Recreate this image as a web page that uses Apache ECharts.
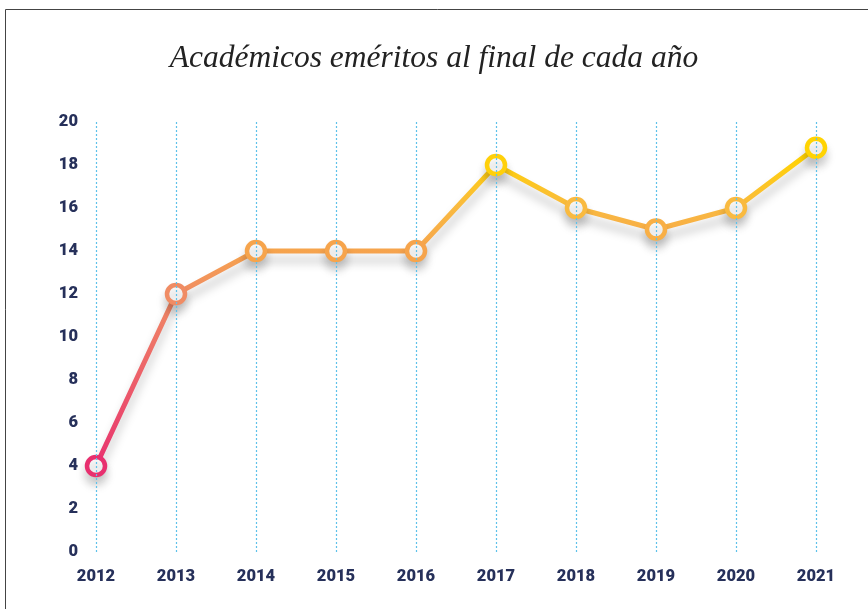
<!DOCTYPE html>
<html><head><meta charset="utf-8">
<script src="https://cdn.jsdelivr.net/npm/echarts@6/dist/echarts.min.js"></script>
<style>html,body{margin:0;padding:0;background:#fff}#c{width:868px;height:609px}</style>
</head><body><div id="c"></div>
<script>
const titleText = 'Académicos eméritos al final de cada año';
const years = ['2012','2013','2014','2015','2016','2017','2018','2019','2020','2021'];
const emeritos = [4,12,14,14,14,18,16,15,16,18.8];
const yMin = 0, yMax = 20, yStep = 2;

// colour ramp by value (style only)
const ramp = [[4,[232,48,111]],[12,[240,140,100]],[14,[246,164,76]],[16,[249,186,64]],[18,[255,208,10]],[19,[255,212,0]]];
function rampColor(v){
  for(let i=0;i<ramp.length-1;i++){
    const [a,ca]=ramp[i],[b,cb]=ramp[i+1];
    if(v<=b){const t=(v-a)/(b-a);const c=ca.map((x,k)=>Math.round(x+(cb[k]-x)*t));return 'rgb('+c.join(',')+')';}
  }
  const c=ramp[ramp.length-1][1];return 'rgb('+c.join(',')+')';
}
const vMin=Math.min(...emeritos), vMax=Math.max(...emeritos);
const stops = ramp.map(([v,c])=>({offset:Math.min(1,(v-vMin)/(vMax-vMin)),color:'rgb('+c.join(',')+')'}));
const labelFont = {color:'#26305A',fontFamily:'Roboto',fontWeight:900,fontSize:16.5};

const chart = echarts.init(document.getElementById('c'), null, {renderer:'canvas'});
chart.setOption({
  backgroundColor:'#fff',
  animation:false,
  graphic:[{type:'rect',shape:{x:5.5,y:9.5,width:870,height:640},style:{fill:'none',stroke:'#444',lineWidth:1},silent:true,z:-1}],
  title:{text:titleText,left:'center',top:38,textStyle:{fontFamily:'Liberation Serif',fontStyle:'italic',fontWeight:'normal',fontSize:31.5,color:'#222'}},
  grid:{left:96,right:52,top:122,bottom:57,containLabel:false},
  xAxis:{type:'category',data:years,boundaryGap:false,z:5,
    axisLine:{show:false},
    axisTick:{show:true,inside:true,length:430,lineStyle:{color:'#5EC1EA',width:1.2,type:[2,2]}},
    axisLabel:Object.assign({margin:16},labelFont),
    splitLine:{show:false}},
  yAxis:{type:'value',min:yMin,max:yMax,interval:yStep,
    axisLine:{show:false},axisTick:{show:false},splitLine:{show:false},
    axisLabel:Object.assign({margin:18},labelFont)},
  series:[{type:'line',z:2,
    data:emeritos.map(v=>({value:v,itemStyle:{borderColor:rampColor(v)}})),
    symbol:'circle',symbolSize:18,
    lineStyle:{width:5,color:new echarts.graphic.LinearGradient(0,1,0,0,stops),
      shadowColor:'rgba(0,0,0,0.22)',shadowBlur:10,shadowOffsetY:9},
    itemStyle:{borderWidth:4.5,color:'#fff',shadowColor:'rgba(0,0,0,0.18)',shadowBlur:10,shadowOffsetY:8}}]
});
</script></body></html>
